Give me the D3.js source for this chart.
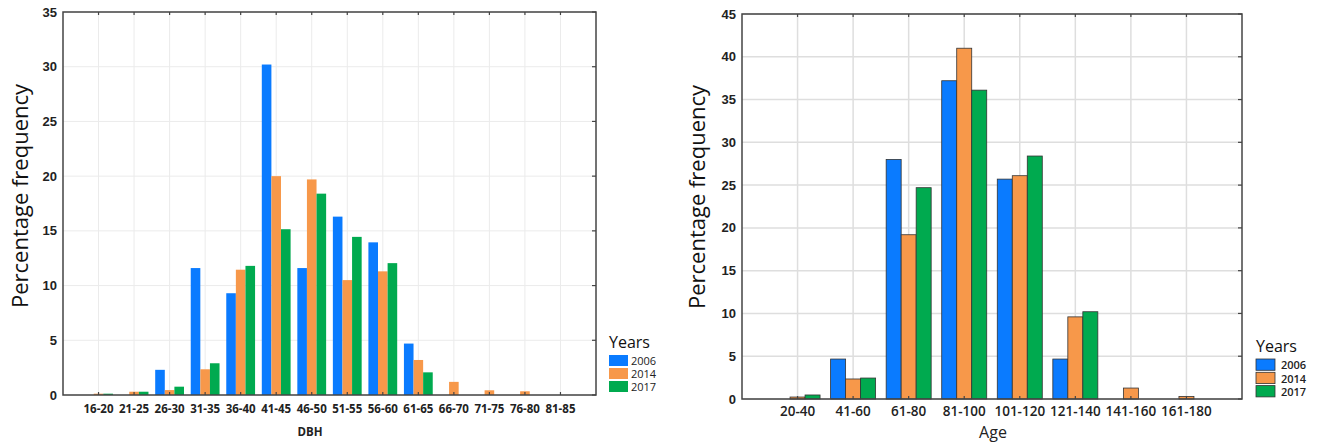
<!DOCTYPE html>
<html>
<head>
<meta charset="utf-8">
<script src="https://cdn.jsdelivr.net/npm/d3@7"></script>
<style>
body { margin:0; background:#fff; }
text { font-family: "Open Sans", sans-serif; }
</style>
</head>
<body>
<svg id="chart" width="1318" height="442"></svg>
<script>
var years=["2006","2014","2017"];
var yearColors=["#0a7bff","#f7984a","#00aa4f"];

// DBH classes (left panel)
var dbhCats=["16-20","21-25","26-30","31-35","36-40","41-45","46-50","51-55","56-60","61-65","66-70","71-75","76-80","81-85"];
var dbh2006=[0,0,2.3,11.6,9.3,30.2,11.6,16.3,13.95,4.7,0,0,0,0];
var dbh2014=[0.12,0.3,0.45,2.35,11.45,20.0,19.7,10.5,11.3,3.2,1.2,0.43,0.34,0];
var dbh2017=[0.12,0.3,0.76,2.9,11.8,15.15,18.4,14.45,12.05,2.07,0,0,0,0];
var dbhTicks=[0,5,10,15,20,25,30,35];

// Age classes (right panel)
var ageCats=["20-40","41-60","61-80","81-100","101-120","121-140","141-160","161-180"];
var age2006=[0,4.67,28.0,37.2,25.7,4.67,0,0];
var age2014=[0.23,2.34,19.2,41.0,26.1,9.6,1.28,0.3];
var age2017=[0.47,2.45,24.7,36.1,28.4,10.2,0,0];
var ageTicks=[0,5,10,15,20,25,30,35,40,45];

var svg=d3.select("#chart");

function panel(o) {
    var g=svg.append("g");
    var x=d3.scalePoint().domain(o.cats).range([o.left,o.right]).padding(1);
    var y=d3.scaleLinear().domain([0,o.ymax]).range([o.bottom,o.top]);
    var series=[o.s1,o.s2,o.s3];

    // grid
    g.append("g").selectAll("line")
	.data(o.cats).enter().append("line")
	.attr("x1",function(d){return x(d);})
	.attr("x2",function(d){return x(d);})
	.attr("y1",o.top).attr("y2",o.bottom)
	.attr("stroke",o.grid).attr("stroke-width",o.gridW);
    g.append("g").selectAll("line")
	.data(o.ticks).enter().append("line")
	.attr("x1",o.left).attr("x2",o.right)
	.attr("y1",function(d){return y(d);})
	.attr("y2",function(d){return y(d);})
	.attr("stroke",o.grid).attr("stroke-width",o.gridW);

    // bars (zero values not drawn)
    var bw=o.barW;
    series.forEach(function(s,j){
	var pts=s.map(function(v,i){return {v:v,c:o.cats[i]};})
	    .filter(function(d){return d.v>0;});
	g.append("g").selectAll("rect")
	    .data(pts).enter().append("rect")
	    .attr("x",function(d){return x(d.c)-1.5*bw+j*bw;})
	    .attr("y",function(d){return y(d.v);})
	    .attr("width",bw)
	    .attr("height",function(d){return o.bottom-y(d.v);})
	    .attr("fill",yearColors[j])
	    .attr("stroke",o.barStroke)
	    .attr("stroke-width",o.barStroke=="none"?0:0.8);
    });

    // frame and inner ticks
    g.append("rect")
	.attr("x",o.left).attr("y",o.top)
	.attr("width",o.right-o.left).attr("height",o.bottom-o.top)
	.attr("fill","none").attr("stroke","#444").attr("stroke-width",1.5);
    g.append("g").selectAll("line")
	.data(o.cats).enter().append("line")
	.attr("x1",function(d){return x(d);})
	.attr("x2",function(d){return x(d);})
	.attr("y1",o.top).attr("y2",o.top+3)
	.attr("stroke","#444").attr("stroke-width",1.2);
    g.append("g").selectAll("line")
	.data(o.cats).enter().append("line")
	.attr("x1",function(d){return x(d);})
	.attr("x2",function(d){return x(d);})
	.attr("y1",o.bottom).attr("y2",o.bottom-3)
	.attr("stroke","#444").attr("stroke-width",1.2);
    g.append("g").selectAll("line")
	.data(o.ticks).enter().append("line")
	.attr("x1",o.right).attr("x2",o.right-4)
	.attr("y1",function(d){return y(d);})
	.attr("y2",function(d){return y(d);})
	.attr("stroke","#444").attr("stroke-width",1.2);

    // y tick labels
    g.append("g").selectAll("text")
	.data(o.ticks).enter().append("text")
	.attr("x",o.left-6)
	.attr("y",function(d){return y(d)+4.5;})
	.attr("text-anchor","end")
	.style("font-family","'Liberation Sans', Arial, sans-serif")
	.style("font-weight","bold")
	.style("font-size","13px")
	.attr("fill","#222")
	.text(function(d){return d;});

    // x tick labels
    g.append("g").selectAll("text")
	.data(o.cats).enter().append("text")
	.attr("x",function(d){return x(d);})
	.attr("y",o.xlabY)
	.attr("text-anchor","middle")
	.style("font-weight",o.xlabW)
	.style("font-size",o.xlabSize)
	.attr("fill","#222")
	.text(function(d){return d;});

    // axis titles
    g.append("text")
	.attr("x",o.xtitleX).attr("y",o.xtitleY)
	.attr("text-anchor","middle")
	.style("font-weight",o.xtitleW)
	.style("font-size",o.xtitleSize)
	.attr("fill","#222")
	.text(o.xtitle);
    g.append("text")
	.attr("transform","translate("+o.ytitleX+","+o.ytitleY+") rotate(-90)")
	.attr("text-anchor","middle")
	.style("font-size","22px")
	.attr("fill","#111")
	.text("Percentage frequency");

    // legend
    var lg=g.append("g").attr("transform","translate("+o.legX+","+o.legY+")");
    lg.append("text")
	.attr("x",0).attr("y",0)
	.style("font-size","16px")
	.attr("fill","#111")
	.text("Years");
    years.forEach(function(yr,j){
	lg.append("rect")
	    .attr("x",0).attr("y",7+j*o.legStep)
	    .attr("width",19).attr("height",o.legStep-2)
	    .attr("fill",yearColors[j])
	    .attr("stroke",o.barStroke).attr("stroke-width",o.barStroke=="none"?0:0.8);
	lg.append("text")
	    .attr("x",o.legText).attr("y",7+j*o.legStep+o.legStep-3)
	    .style("font-size","11px")
	    .style("font-weight",o.legW)
	    .attr("fill","#222")
	    .text(yr);
    });
}

panel({
    cats:dbhCats, s1:dbh2006, s2:dbh2014, s3:dbh2017, ticks:dbhTicks, ymax:35,
    left:63, right:596, top:12, bottom:395,
    grid:"#ebebeb", gridW:1, barW:9.6, barStroke:"none",
    xlabY:413, xlabW:"bold", xlabSize:"11.5px",
    xtitle:"DBH", xtitleX:310, xtitleY:436, xtitleW:"bold", xtitleSize:"11.5px",
    ytitleX:28, ytitleY:196,
    legX:609, legY:348, legStep:13, legText:22, legW:"normal"
});

panel({
    cats:ageCats, s1:age2006, s2:age2014, s3:age2017, ticks:ageTicks, ymax:45,
    left:742, right:1242, top:14, bottom:399,
    grid:"#dedede", gridW:1.5, barW:15, barStroke:"#333",
    xlabY:416, xlabW:"600", xlabSize:"13.5px",
    xtitle:"Age", xtitleX:993, xtitleY:438, xtitleW:"normal", xtitleSize:"16px",
    ytitleX:705, ytitleY:197,
    legX:1256, legY:352, legStep:13.3, legText:25, legW:"600"
});
</script>
</body>
</html>
